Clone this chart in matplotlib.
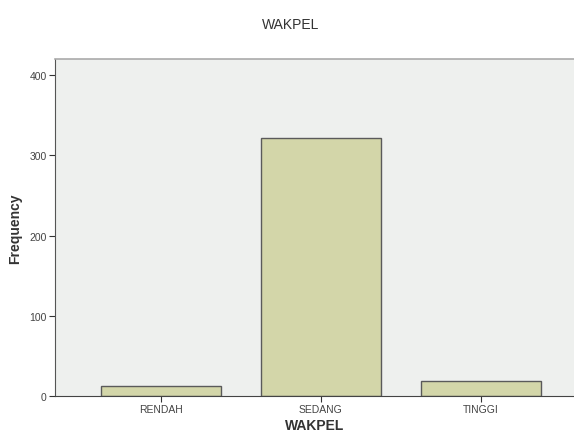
import numpy as np
import matplotlib.pyplot as plt

plt.rcParams['font.family'] = ['Liberation Sans', 'DejaVu Sans']

categories = ['RENDAH', 'SEDANG', 'TINGGI']
frequency = [13, 322, 19]

fig = plt.figure(figsize=(5.74, 4.39), dpi=100)
fig.patch.set_facecolor('white')
ax = fig.add_axes([55 / 574, 1 - 397 / 439, 519 / 574, 337 / 439])
ax.set_facecolor('#eef0ee')

x = np.arange(len(categories))
ax.bar(x, frequency, width=0.75, color='#d3d6a9', edgecolor='#5a5a5a', linewidth=1.0, zorder=2)

ax.set_xlim(-0.66, 2.58)
ax.set_ylim(0, 420)
ax.set_yticks([0, 100, 200, 300, 400])
ax.set_xticks(x)
ax.set_xticklabels(categories)
ax.tick_params(axis='both', labelsize=7.5, colors='#333333', length=4, width=0.8, pad=2)
for lab in ax.get_xticklabels() + ax.get_yticklabels():
    lab.set_color('#444444')

ax.spines['top'].set_color('#aaaaaa')
ax.spines['top'].set_linewidth(1.2)
ax.spines['right'].set_visible(False)
ax.spines['left'].set_color('#555555')
ax.spines['bottom'].set_color('#444444')

ax.set_xlabel('WAKPEL', fontsize=10, fontweight='bold', color='#333333', labelpad=3)
ax.set_ylabel('Frequency', fontsize=10, fontweight='bold', color='#333333', labelpad=5)
fig.text(0.507, 1 - 25 / 439, 'WAKPEL', ha='center', va='center', fontsize=10, color='#333333')

fig.savefig('out.png', dpi=100, facecolor=fig.get_facecolor())
